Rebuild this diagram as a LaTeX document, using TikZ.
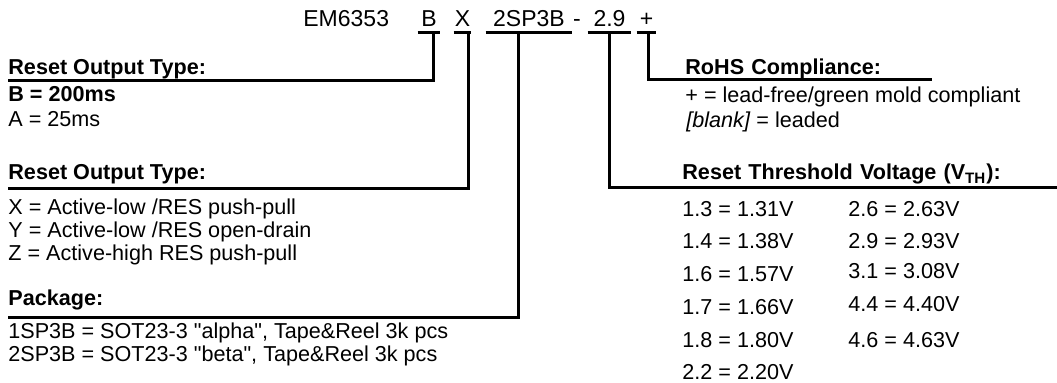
\documentclass[tikz,border=0pt]{standalone}
\usepackage{fontspec}
\setmainfont{Liberation Sans}[Ligatures=TeXOff]
\tikzset{
    code-part/.style = {inner sep=0pt, anchor=base, text depth=2.5pt, font=\fontsize{11.5}{13}\selectfont},
    field-title/.style = {inner sep=0pt, anchor=base west, font=\fontsize{10.8}{13}\selectfont\bfseries},
    field-text/.style = {inner sep=0pt, anchor=base west, font=\fontsize{10.8}{13}\selectfont},
    lead-line/.style = {draw=black, line width=1.5pt},
}

\begin{document}
\begin{tikzpicture}[x=0.5pt, y=-0.5pt]
\useasboundingbox (0,0) rectangle (1057,383);

% ordering code
\node[code-part, anchor=base west] (part) at (303,27) {EM6353};
\node[code-part, minimum width=11pt] (codeB) at (429,27) {B};
\node[code-part, minimum width=8.5pt] (codeX) at (462.5,27) {X};
\node[code-part, minimum width=43pt] (codePkg) at (529,27) {2SP3B};
\node[code-part] (dash) at (577,27) {-};
\node[code-part, minimum width=21.5pt] (codeV) at (609.5,27) {2.9};
\node[code-part, minimum width=9.5pt] (codeR) at (646.5,27) {+};
\foreach \f in {codeB, codeX, codePkg, codeV, codeR}
    \draw[lead-line] (\f.south west) -- (\f.south east);
\coordinate (tapB) at (433,32);
\coordinate (tapX) at (468,32);
\coordinate (tapPkg) at (518,32);
\coordinate (tapV) at (609,32);
\coordinate (tapR) at (648,32);

% left column
\node[field-title, text depth=2.5pt] (titleDelay) at (8,75) {Reset Output Type:};
\node[field-title] (delayB) at (8,102) {B = 200ms};
\node[field-text] (delayA) at (8,127) {A = 25ms};

\node[field-title, text depth=4pt] (titleOutput) at (8,180) {Reset Output Type:};
\node[field-text] (outX) at (8,215) {X = Active-low /RES push-pull};
\node[field-text] (outY) at (8,238) {Y = Active-low /RES open-drain};
\node[field-text] (outZ) at (8,261) {Z = Active-high RES push-pull};

\node[field-title, text depth=5.5pt] (titlePkg) at (8,306) {Package:};
\node[field-text] (pkg1) at (8,339) {1SP3B = SOT23-3 "alpha", Tape\&Reel 3k pcs};
\node[field-text] (pkg2) at (8,362) {2SP3B = SOT23-3 "beta", Tape\&Reel 3k pcs};

% right column
\node[field-title, text depth=2pt, text width=123pt] (titleRoHS) at (685,75) {RoHS Compliance:};
\node[field-text] (rohsPlus) at (685,103) {+ = lead-free/green mold compliant};
\node[field-text] (rohsBlank) at (686,128) {\textit{[blank]} = leaded};

\node[field-title, text depth=3.5pt, text width=187.5pt] (titleVth) at (682,180) {Reset Threshold Voltage (V\textsubscript{TH}):};
\node[field-text] (vth13) at (682,217) {1.3 = 1.31V};
\node[field-text] (vth14) at (682,249) {1.4 = 1.38V};
\node[field-text] (vth16) at (682,282) {1.6 = 1.57V};
\node[field-text] (vth17) at (682,315) {1.7 = 1.66V};
\node[field-text] (vth18) at (682,348) {1.8 = 1.80V};
\node[field-text] (vth22) at (682,380) {2.2 = 2.20V};
\node[field-text] (vth26) at (848,217) {2.6 = 2.63V};
\node[field-text] (vth29) at (848,249) {2.9 = 2.93V};
\node[field-text] (vth31) at (848,279) {3.1 = 3.08V};
\node[field-text] (vth44) at (848,312) {4.4 = 4.40V};
\node[field-text] (vth46) at (848,348) {4.6 = 4.63V};

% leader lines
\draw[lead-line] (titleDelay.south west) -| (tapB);
\draw[lead-line] (titleOutput.south west) -| (tapX);
\draw[lead-line] (titlePkg.south west) -| (tapPkg);
\draw[lead-line] (tapR) |- (titleRoHS.south east);
\draw[lead-line] (tapV) |- (titleVth.south east);
\end{tikzpicture}
\end{document}
